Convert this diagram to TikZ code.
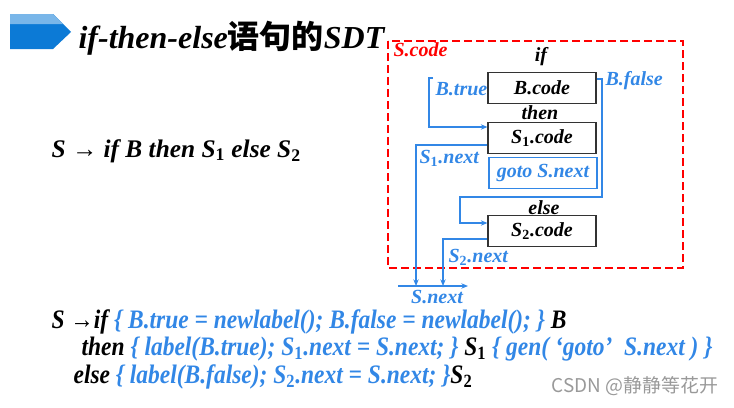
\documentclass[tikz,border=0pt]{standalone}
\usepackage{fontspec}
\setmainfont{Liberation Serif}
\newfontfamily\cjk{Noto Sans CJK SC}
\newfontfamily\codefont[FakeStretch=0.88]{Liberation Serif}
\usepackage{xcolor}
\usepackage{tikz}
\usetikzlibrary{arrows.meta}

\definecolor{sdtblue}{RGB}{50,135,230}
\definecolor{titleblue}{RGB}{12,122,214}
\newcommand{\subidx}[2]{#1\textsubscript{\upshape #2}}

\tikzset{
  codebox/.style={draw=black!80, line width=0.8pt, minimum width=81pt, minimum height=23pt, inner sep=1pt},
  lbl/.style={text=sdtblue, inner sep=1pt},
  flow/.style={sdtblue, line width=0.8pt, -{Stealth[length=5pt,width=4pt]}},
  rule/.style={right, inner sep=1pt, font=\codefont\bfseries\itshape\fontsize{20}{24}\selectfont},
}

\begin{document}
\begin{tikzpicture}[x=0.75pt,y=-0.75pt, font=\bfseries\itshape\fontsize{15}{18}\selectfont]
  \useasboundingbox (0,0) rectangle (734,407);
  % title
  \fill[titleblue] (10,14) -- (53,14) -- (71,32) -- (53,49) -- (10,49) -- cycle;
  \fill[titleblue!55!white] (10,14) -- (53,14) -- (63,24) -- (10,24) -- cycle;
  \node[right, inner sep=1pt, font=\bfseries\itshape\fontsize{24}{28}\selectfont] (title) at (77,38) {if-then-else{\cjk\upshape 语句的}SDT};

  % production
  \node[right, inner sep=1pt, font=\bfseries\itshape\fontsize{19}{22}\selectfont] (prod) at (50,151) {S → if B then \subidx{S}{1} else \subidx{S}{2}};

  % layout of S.code
  \draw[red, line width=1.1pt, dash pattern=on 6pt off 3pt] (388,41) rectangle (683,268);
  \node[right, red, inner sep=1pt] (scode) at (392,50) {S.code};
  \node (if)   at (541,57)  {if};
  \node[codebox] (bcode)  at (542,88)  {B.code};
  \node (then) at (540,113) {then};
  \node[codebox] (s1code) at (542,138) {\subidx{S}{1}.code};
  \node[codebox, draw=sdtblue, text=sdtblue] (gotobox) at (543,173) {goto S.next};
  \node (else) at (544,208) {else};
  \node[codebox] (s2code) at (542,231) {\subidx{S}{2}.code};

  \node[lbl, right] (btrue)  at (434,89)  {B.true};
  \node[lbl, right] (bfalse) at (604,81)  {B.false};
  \node[lbl, right] (s1next) at (418,158) {\subidx{S}{1}.next};
  \node[lbl, right] (s2next) at (447,257) {\subidx{S}{2}.next};
  \node[lbl] (snext) at (437,297) {S.next};

  % jumps
  \coordinate (btick) at (433,78);
  \coordinate (nleft) at (398,286);
  \coordinate (nright) at (468,286);
  \draw[flow] (btick) -- (429,78) -- (429,127) -- ([yshift=8.25pt]s1code.west);
  \draw[flow] ([yshift=6.75pt]bcode.east) -- (602,79) -- (602,197) -- (460,197) -- (460,223) -- ([yshift=6pt]s2code.west);
  \draw[flow] ([yshift=-5.25pt]s1code.west) -- (416,145) -- (416,286);
  \draw[flow] ([yshift=-6pt]s2code.west) -- (443,239) -- (443,286);
  \draw[flow] (nleft) -- (nright);

  % translation scheme
  \node[rule] (rule1) at (50,322)
    {S →if {\color{sdtblue}\{ B.true = newlabel(); B.false = newlabel(); \}} B};
  \node[rule] (rule2) at (80,349)
    {then {\color{sdtblue}\{ label(B.true); \subidx{S}{1}.next = S.next; \}} \subidx{S}{1} {\color{sdtblue}\{ gen( ‘goto’~ S.next ) \}}};
  \node[rule] (rule3) at (72,377)
    {else {\color{sdtblue}\{ label(B.false); \subidx{S}{2}.next = S.next; \}}\subidx{S}{2}};

  \node[right, inner sep=1pt, text=black!40, font=\cjk\fontsize{14.2}{17}\selectfont] (mark) at (550,386) {CSDN @静静等花开};
\end{tikzpicture}
\end{document}
